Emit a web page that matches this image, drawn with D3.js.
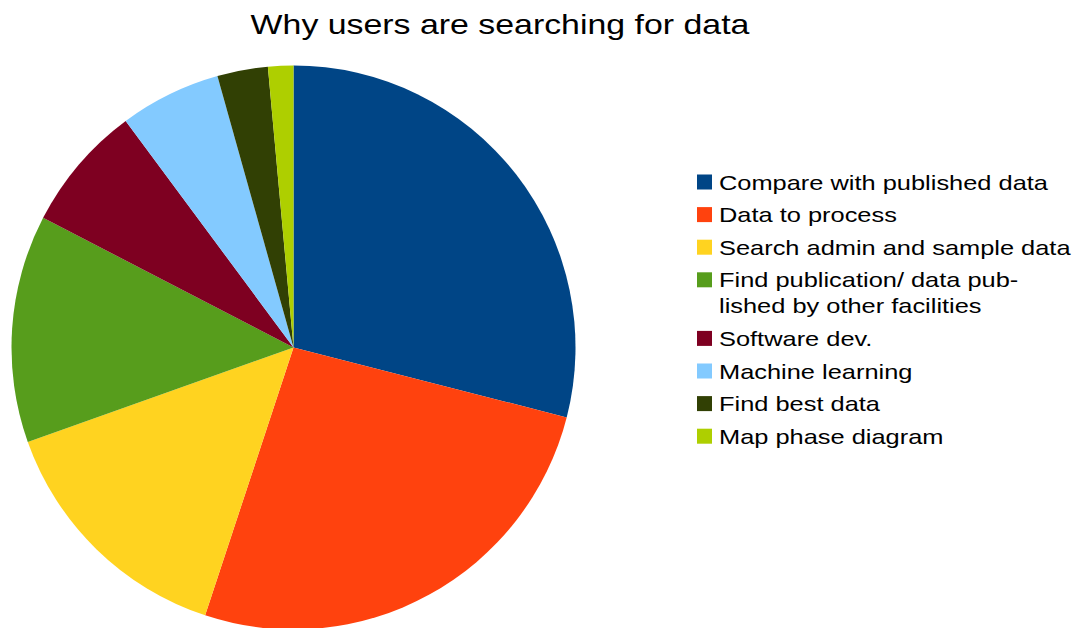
<!DOCTYPE html>
<html>
<head>
<meta charset="utf-8">
<script src="https://cdn.jsdelivr.net/npm/d3@7"></script>
<style>
  html, body { margin: 0; padding: 0; background: #fff; }
  svg { display: block; font-family: "Liberation Sans", Arial, sans-serif; }
</style>
</head>
<body>
<svg id="chart" width="1084" height="628"></svg>
<script>
// Survey answers: reasons users give for searching for data
const categories = [
  "Compare with published data",
  "Data to process",
  "Search admin and sample data",
  "Find publication/ data pub-\nlished by other facilities",
  "Software dev.",
  "Machine learning",
  "Find best data",
  "Map phase diagram"
];
const counts = [20, 18, 10, 9, 5, 4, 2, 1];
const colors = ["#004586", "#ff420e", "#ffd320", "#579d1c", "#7e0021", "#83caff", "#314004", "#aecf00"];
const title = "Why users are searching for data";

const svg = d3.select("#chart");
const data = categories.map((c, i) => ({ label: c, value: counts[i], color: colors[i] }));

// Text in this chart is set slightly wide
const stretch = 1.21;

svg.append("g")
  .attr("transform", `translate(500,34) scale(${stretch},1)`)
  .append("text")
  .attr("text-anchor", "middle")
  .attr("font-size", 28)
  .attr("fill", "#000")
  .text(title);

const cx = 293.5, cy = 347.5, r = 282;
const pie = d3.pie().value(d => d.value).sort(null);
const arc = d3.arc().innerRadius(0).outerRadius(r);

svg.append("g")
  .attr("transform", `translate(${cx},${cy})`)
  .selectAll("path")
  .data(pie(data))
  .join("path")
  .attr("d", arc)
  .attr("fill", d => d.data.color);

// Legend
const legend = svg.append("g").attr("transform", "translate(697,0)");
let y = 182;
data.forEach(d => {
  const lines = d.label.split("\n");
  const g = legend.append("g");
  g.append("rect")
    .attr("x", 0).attr("y", y - 7.5)
    .attr("width", 15).attr("height", 15)
    .attr("fill", d.color);
  lines.forEach((ln, k) => {
    g.append("g")
      .attr("transform", `translate(22,${y + k * 26}) scale(${stretch},1)`)
      .append("text")
      .attr("dy", "0.36em")
      .attr("font-size", 21)
      .attr("fill", "#000")
      .text(ln);
  });
  y += 32.6 + (lines.length - 1) * 26;
});
</script>
</body>
</html>
